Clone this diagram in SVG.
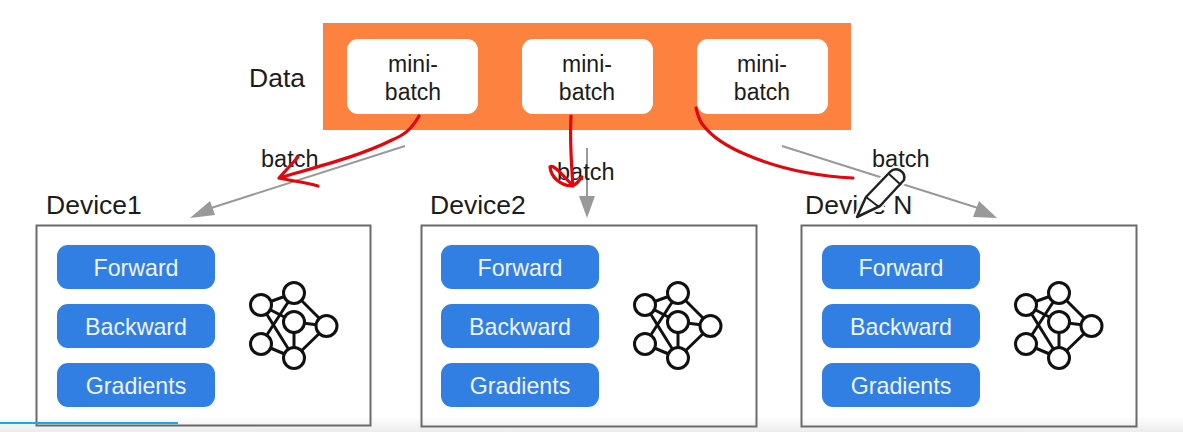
<svg xmlns="http://www.w3.org/2000/svg" xmlns:xlink="http://www.w3.org/1999/xlink" width="1183" height="432" viewBox="0 0 1183 432">
<style>
text{font-family:"Liberation Sans",Arial,sans-serif;fill:#1c1c1c}
.lbl{font-size:26.500px}
.btn{font-size:23.200px;fill:#eef4fb;text-anchor:middle}
.mb{font-size:23px;text-anchor:middle}
.bt{font-size:23.500px}
.box{fill:none;stroke:#6a6a6a;stroke-width:2}
.b{fill:#327fe3}
.mini{fill:#fff}
.gr{stroke:#999;stroke-width:2;fill:none}
.tip{fill:#999}
.red{stroke:#e3060c;stroke-width:3.200;fill:none;stroke-linecap:round;stroke-linejoin:round}
.net line{stroke:#111;stroke-width:3}
.net circle{fill:#fff;stroke:#111;stroke-width:3}
</style>
<defs>
<linearGradient id="foot" x1="0" y1="0" x2="0" y2="1"><stop offset="0" stop-color="#fff"/><stop offset="1" stop-color="#ececec"/></linearGradient>
<g id="net" class="net">
<line x1="261" y1="305" x2="294" y2="293"/><line x1="294" y1="293" x2="327" y2="326"/><line x1="294" y1="322" x2="327" y2="326"/><line x1="294" y1="322" x2="294" y2="358"/><line x1="294" y1="358" x2="327" y2="326"/><line x1="261" y1="344" x2="294" y2="358"/><line x1="261" y1="305" x2="294" y2="358"/><line x1="261" y1="344" x2="294" y2="293"/><line x1="261" y1="305" x2="294" y2="322"/>
<circle cx="261" cy="305" r="10.500"/><circle cx="294" cy="293" r="10.500"/><circle cx="294" cy="322" r="10.500"/><circle cx="326.500" cy="326" r="10.500"/><circle cx="261" cy="344" r="10.500"/><circle cx="294" cy="358" r="10.500"/>
</g>
</defs>
<rect width="1183" height="432" fill="#fff"/>
<rect x="0" y="416" width="1183" height="16" fill="url(#foot)"/>
<g id="data">
<text class="lbl" x="249" y="87">Data</text>
<rect x="323" y="23" width="528" height="107" fill="#fd8240"/>
<rect class="mini" x="347" y="39" width="131" height="75" rx="11"/>
<rect class="mini" x="522" y="39" width="131" height="75" rx="11"/>
<rect class="mini" x="697" y="39" width="131" height="75" rx="11"/>
<text class="mb" x="413" y="72">mini-</text><text class="mb" x="413" y="100">batch</text>
<text class="mb" x="587" y="72">mini-</text><text class="mb" x="587" y="100">batch</text>
<text class="mb" x="762" y="72">mini-</text><text class="mb" x="762" y="100">batch</text>
</g>
<g id="device1">
<text class="lbl" x="46" y="214">Device1</text>
<rect class="box" x="36.500" y="225.500" width="334" height="200"/>
<rect class="b" x="57" y="245" width="158" height="44" rx="11"/><text class="btn" x="136" y="276">Forward</text>
<rect class="b" x="57" y="304" width="158" height="44" rx="11"/><text class="btn" x="136" y="335">Backward</text>
<rect class="b" x="57" y="363" width="158" height="44" rx="11"/><text class="btn" x="136" y="394">Gradients</text>
<use xlink:href="#net" href="#net"/>
</g>
<g id="device2">
<text class="lbl" x="430" y="214">Device2</text>
<rect class="box" x="421.500" y="225.500" width="335" height="201"/>
<rect class="b" x="441" y="245" width="158" height="44" rx="11"/><text class="btn" x="520" y="276">Forward</text>
<rect class="b" x="441" y="304" width="158" height="44" rx="11"/><text class="btn" x="520" y="335">Backward</text>
<rect class="b" x="441" y="363" width="158" height="44" rx="11"/><text class="btn" x="520" y="394">Gradients</text>
<use xlink:href="#net" href="#net" x="384"/>
</g>
<g id="deviceN">
<text class="lbl" x="805" y="214">Device N</text>
<rect class="box" x="801.500" y="225.500" width="335" height="201"/>
<rect class="b" x="822" y="245" width="158" height="44" rx="11"/><text class="btn" x="901" y="276">Forward</text>
<rect class="b" x="822" y="304" width="158" height="44" rx="11"/><text class="btn" x="901" y="335">Backward</text>
<rect class="b" x="822" y="363" width="158" height="44" rx="11"/><text class="btn" x="901" y="394">Gradients</text>
<use xlink:href="#net" href="#net" x="765"/>
</g>
<g id="connectors">
<line class="gr" x1="405" y1="146" x2="208" y2="209"/><polygon class="tip" points="190,218 210,201 215,215"/>
<line class="gr" x1="587" y1="148" x2="587" y2="198"/><polygon class="tip" points="587,218 579,196 595,196"/>
<line class="gr" x1="782" y1="146" x2="978" y2="208"/><polygon class="tip" points="997,218 973,217 979,201"/>
<text class="bt" x="261" y="167">batch</text>
<text class="bt" x="557" y="180">batch</text>
<text class="bt" x="872" y="167">batch</text>
<path class="red" d="M419 116C411 130 404 135 392 140C360 156 320 166 279 178M298 157L279 178C292 181 304 182 318 186"/>
<path class="red" d="M571 116C570 135 571 160 573 186M582 177C578 182 575 186 571 186C561 185 551 178 550 167C553 164 560 172 573 186"/>
<path class="red" d="M696 108C698 116 700 122 703 125C712 137 730 148 747 155C780 169 815 176 853 178"/>
</g>
<g id="pen">
<path d="M857 217L866 197L890 172C896 166 906 171 904 180L880 206Z" fill="#fff" stroke="#fff" stroke-width="7" stroke-linejoin="round" opacity="0.900"/>
<path d="M857 217L866 197L890 172C896 166 906 171 904 180L880 206Z" fill="#fff" stroke="#222" stroke-width="2.500" stroke-linejoin="round"/>
<path d="M889 174L901 185M866 197L879 207" fill="none" stroke="#222" stroke-width="2"/>
</g>
<rect x="0" y="422" width="178" height="2" fill="#18a8e8"/>
</svg>
